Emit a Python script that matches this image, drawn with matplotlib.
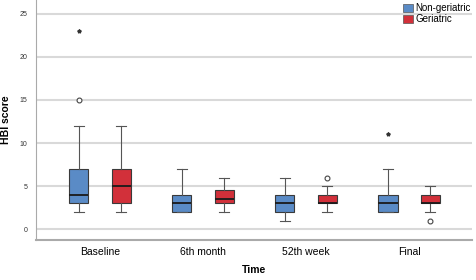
import matplotlib
matplotlib.use("Agg")
import matplotlib.pyplot as plt
from matplotlib.patches import Patch

# ---------------------------------------
# Data
# ---------------------------------------
times = ["Baseline", "6th month", "52th week", "Final"]
groups = ["Non-geriatric", "Geriatric"]
colors = ["#5a8bc6", "#d2303a"]

# per group: [whislo, q1, med, q3, whishi] for each time point
non_geri = [[2, 3, 4, 7, 12], [2, 2, 3, 4, 7], [1, 2, 3, 4, 6], [2, 2, 3, 4, 7]]
geri = [[2, 3, 5, 7, 12], [2, 3, 3.5, 4.5, 6], [2, 3, 3, 4, 5], [2, 3, 3, 4, 5]]

# outliers: circles (mild) and stars (extreme)
non_geri_circ = [[15], [], [], []]
non_geri_star = [[23], [], [], [11]]
geri_circ = [[], [], [6], [1]]
geri_star = [[], [], [], []]

plt.rcParams['font.family'] = ['Liberation Sans', 'DejaVu Sans']

fig = plt.figure(figsize=(4.76, 2.8), dpi=100)
ax = fig.add_axes([36 / 476, 40 / 280, 436 / 476, 240 / 280])

offset = 0.205
width = 0.185
all_stats = [non_geri, geri]
circs = [non_geri_circ, geri_circ]
stars = [non_geri_star, geri_star]

for gi in range(2):
    stats = []
    for ti in range(len(times)):
        lo, q1, med, q3, hi = all_stats[gi][ti]
        stats.append(dict(whislo=lo, q1=q1, med=med, q3=q3, whishi=hi,
                          fliers=[], label=times[ti]))
    pos = [i + (offset if gi else -offset) for i in range(len(times))]
    ax.bxp(stats, positions=pos, widths=width, patch_artist=True,
           showfliers=False, manage_ticks=False,
           boxprops=dict(facecolor=colors[gi], edgecolor="#3a3a3a", linewidth=0.8),
           medianprops=dict(color="#1a1a1a", linewidth=1.3),
           whiskerprops=dict(color="#555555", linewidth=0.8),
           capprops=dict(color="#555555", linewidth=0.8),
           capwidths=width * 0.5)
    for ti in range(len(times)):
        for v in circs[gi][ti]:
            ax.plot(pos[ti], v, "o", mfc="white", mec="#444444", ms=3.5, mew=0.8)
        for v in stars[gi][ti]:
            ax.plot(pos[ti], v, "*", color="#333333", ms=2.8)

ax.set_xlim(-0.62, 3.61)
ax.set_ylim(-1.25, 26.6)
ax.set_yticks([0, 5, 10, 15, 20, 25])
ax.set_xticks(range(len(times)))
ax.set_xticklabels(times, fontsize=7.5)
ax.tick_params(axis="y", labelsize=5, length=0, pad=6, colors="#333333")
ax.tick_params(axis="x", length=0, pad=5)
ax.yaxis.grid(True, color="#d9d9d9", linewidth=1.5)
ax.set_axisbelow(True)
for s in ["top", "right"]:
    ax.spines[s].set_visible(False)
ax.spines["left"].set_color("#aaaaaa")
ax.spines["bottom"].set_color("#aaaaaa")
ax.spines["bottom"].set_linewidth(1.5)

ax.set_ylabel("HBI score", fontsize=7.5, fontweight="bold", labelpad=6)
ax.set_xlabel("Time", fontsize=7.5, fontweight="bold", labelpad=6)

handles = [Patch(facecolor=c, edgecolor="#555555", linewidth=0.5) for c in colors]
ax.legend(handles, groups, loc="upper right", bbox_to_anchor=(1.01, 1.01),
          fontsize=7, frameon=False, handlelength=1.0, handleheight=1.0,
          handletextpad=0.2, labelspacing=0.1, borderpad=0.1)

fig.savefig("out.png", dpi=100)
